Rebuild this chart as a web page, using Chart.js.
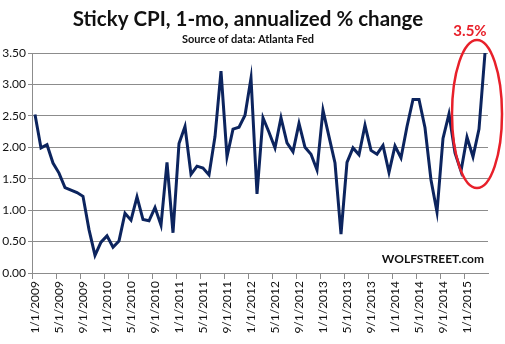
<!DOCTYPE html>
<html>
<head>
<meta charset="utf-8">
<script src="https://cdn.jsdelivr.net/npm/chart.js@4"></script>
<style>
  body { margin: 0; background: #fff; }
  #wrap { width: 505px; height: 344px; }
</style>
</head>
<body>
<div id="wrap"><canvas id="cpi"></canvas></div>
<script>
// monthly observations, 1/1/2009 .. 4/1/2015
const startYear = 2009
const monthCount = 76
const months = []
for (let i = 0; i < monthCount; i++) {
  months.push((i % 12 + 1) + '/1/' + (startYear + Math.floor(i / 12)))
}

const stickyCpi = [
  2.52, 1.99, 2.04, 1.75, 1.59, 1.36, 1.32, 1.28, 1.22, 0.69, 0.28, 0.49,
  0.59, 0.41, 0.51, 0.95, 0.84, 1.21, 0.85, 0.83, 1.04, 0.76, 1.76, 0.64,
  2.06, 2.33, 1.57, 1.70, 1.67, 1.56, 2.17, 3.21, 1.85, 2.29, 2.32, 2.51,
  3.10, 1.26, 2.47, 2.24, 1.99, 2.47, 2.07, 1.93, 2.38, 2.00, 1.89, 1.64,
  2.59, 2.17, 1.75, 0.62, 1.76, 1.99, 1.88, 2.35, 1.95, 1.89, 2.03, 1.60,
  2.02, 1.83, 2.33, 2.76, 2.76, 2.31, 1.48, 0.97, 2.14, 2.53, 1.91, 1.62,
  2.16, 1.85, 2.29, 3.50
]

const yTicks = [0, 0.5, 1, 1.5, 2, 2.5, 3, 3.5]
const labelEvery = 4

const titleText = 'Sticky CPI, 1-mo, annualized % change'
const subtitleText = 'Source of data: Atlanta Fed'
const calloutText = '3.5%'
const brandText = 'WOLFSTREET.com'

const gridGray = '#8c8c8c'
const lineNavy = '#0c245e'
const red = '#e8202a'

const extras = {
  id: 'extras',
  afterDraw(chart) {
    const c = chart.ctx
    const area = chart.chartArea
    c.save()
    c.fillStyle = '#111'
    c.textAlign = 'center'
    c.textBaseline = 'alphabetic'
    c.font = 'bold 20.5px Lato'
    c.fillText(titleText, 248, 26)
    c.font = 'bold 11px Lato'
    c.fillText(subtitleText, 248, 43)

    // red ellipse around the last months
    c.strokeStyle = red
    c.lineWidth = 2.5
    c.beginPath()
    c.ellipse(477, 114, 25, 74, 0, 0, Math.PI * 2)
    c.stroke()

    c.fillStyle = red
    c.font = 'bold 15px Lato'
    c.fillText(calloutText, 470, 36)

    c.fillStyle = '#111'
    c.textAlign = 'right'
    c.font = 'bold 12px Lato'
    c.fillText(brandText, area.right - 4, 263)
    c.restore()
  }
}

new Chart(document.getElementById('cpi'), {
  type: 'line',
  data: {
    labels: months,
    datasets: [{
      data: stickyCpi,
      borderColor: lineNavy,
      borderWidth: 3,
      pointRadius: 0,
      tension: 0,
      fill: false
    }]
  },
  options: {
    responsive: true,
    maintainAspectRatio: false,
    animation: false,
    layout: { padding: { top: 53, right: 17, left: 2, bottom: 0 } },
    plugins: {
      legend: { display: false },
      tooltip: { enabled: false }
    },
    scales: {
      x: {
        offset: true,
        grid: {
          offset: true,
          drawOnChartArea: false,
          tickLength: 6,
          color: ctx => ctx.index % labelEvery === 0 ? gridGray : 'rgba(0,0,0,0)'
        },
        border: { color: gridGray },
        afterFit: s => { s.height = 71 },
        ticks: {
          autoSkip: false,
          minRotation: 90,
          maxRotation: 90,
          padding: 2,
          color: '#111',
          font: { family: 'Lato', size: 12 },
          callback: (v, i) => i % labelEvery === 0 ? months[i] : ''
        }
      },
      y: {
        min: 0,
        max: 3.5,
        afterBuildTicks: s => { s.ticks = yTicks.map(v => ({ value: v })) },
        afterFit: s => { s.width = 30 },
        grid: { color: gridGray, tickLength: 4 },
        border: { color: gridGray },
        ticks: {
          padding: 2,
          color: '#111',
          font: { family: 'Lato', size: 12 },
          callback: v => Number(v).toFixed(2)
        }
      }
    }
  },
  plugins: [extras]
})
</script>
</body>
</html>
